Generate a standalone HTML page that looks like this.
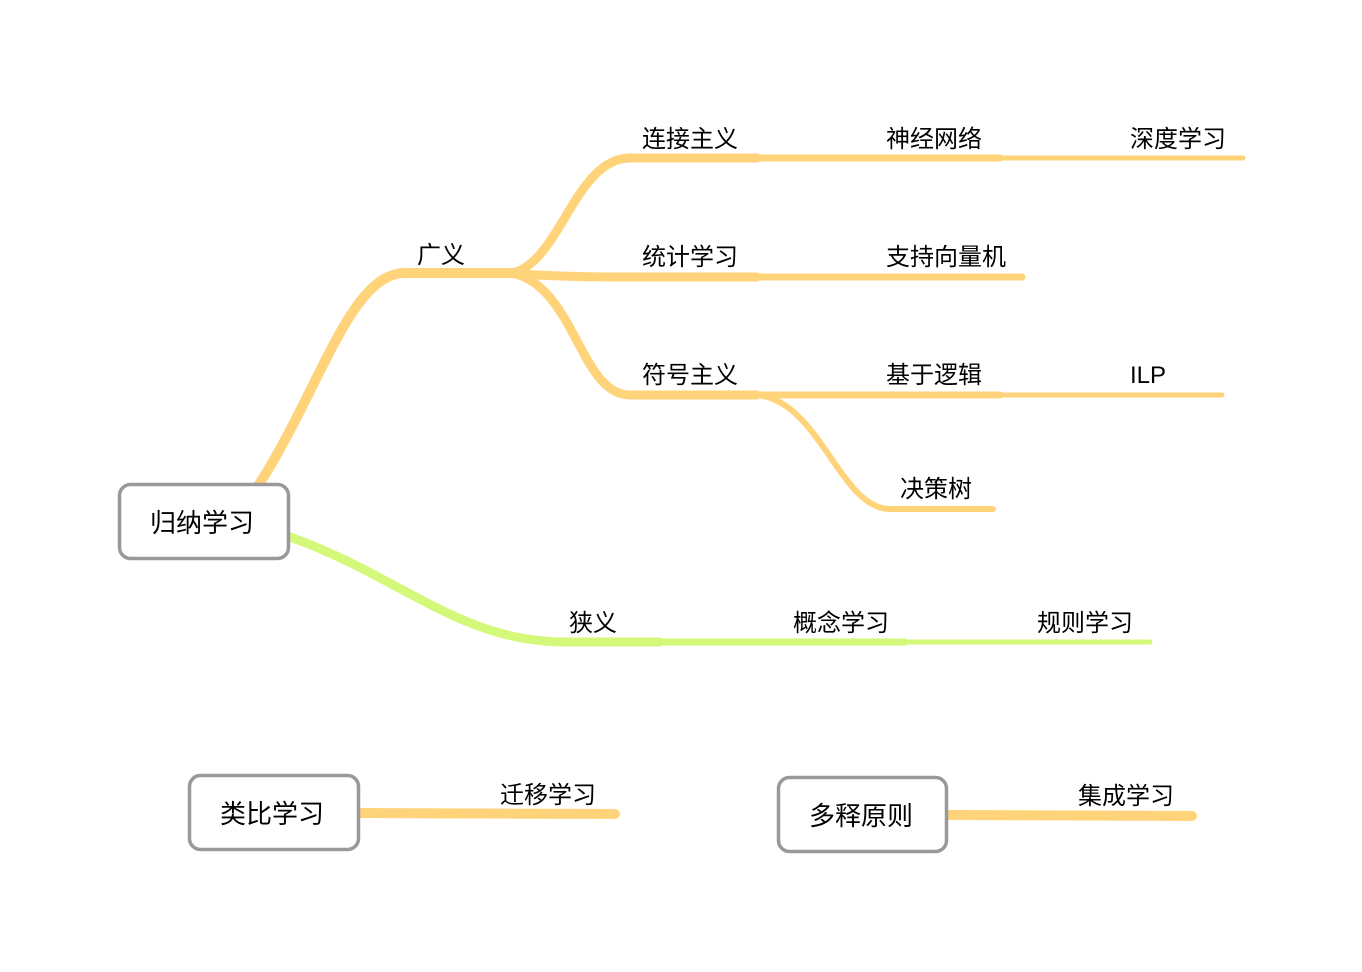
<!DOCTYPE html>
<html><head><meta charset="utf-8"><style>
html,body{margin:0;padding:0;background:#fff;width:1362px;height:972px;overflow:hidden}
text{font-family:"Liberation Sans","Noto Sans CJK SC",sans-serif;font-size:24px;fill:#000}
</style></head><body>
<svg width="1362" height="972" viewBox="0 0 1362 972" xmlns="http://www.w3.org/2000/svg">
<g fill="none" stroke="#FFD37A" stroke-linecap="round">
<path d="M258 486 C320 390 350 273 405 273 L512 273" stroke-width="10"/>
<path d="M512 273 C560 263 575 158 630 158 L757 158" stroke-width="9"/>
<path d="M757 158 L1000 158" stroke-width="7"/>
<path d="M1000 158 L1243 158" stroke-width="5"/>
<path d="M505 273 C560 277 600 277 630 277 L757 277" stroke-width="9"/>
<path d="M757 277 L1022 277" stroke-width="7"/>
<path d="M512 273 C575 286 580 395 630 395 L757 395" stroke-width="9"/>
<path d="M757 395 L1000 395" stroke-width="7"/>
<path d="M1000 395 L1222 395" stroke-width="5"/>
<path d="M757 395 C820 401 840 509 890 509 L993 509" stroke-width="6"/>
<path d="M360 813 L615 814" stroke-width="10"/>
<path d="M948 815 L1192 816" stroke-width="10"/>
</g>
<g fill="none" stroke="#D4F97A" stroke-linecap="round">
<path d="M290 537 C400 576 460 642 565 642 L660 642" stroke-width="9"/>
<path d="M660 642 L905 642" stroke-width="7"/>
<path d="M905 642 L1150 642" stroke-width="5"/>
</g>
<g fill="#fff" stroke="#999" stroke-width="3.5">
<rect x="119.5" y="484.5" width="169" height="74" rx="11"/>
<rect x="189.5" y="775.5" width="169" height="74" rx="11"/>
<rect x="778.5" y="777.5" width="168" height="74" rx="11"/>
</g>
<text x="150" y="532" style="font-size:26px">归纳学习</text>
<text x="220" y="823" style="font-size:26px">类比学习</text>
<text x="809" y="825" style="font-size:26px">多释原则</text>
<text x="417" y="263">广义</text>
<text x="642" y="147">连接主义</text>
<text x="886" y="147">神经网络</text>
<text x="1130" y="147">深度学习</text>
<text x="642" y="265">统计学习</text>
<text x="886" y="265">支持向量机</text>
<text x="642" y="383">符号主义</text>
<text x="886" y="383">基于逻辑</text>
<text x="1130" y="383">ILP</text>
<text x="900" y="497">决策树</text>
<text x="569" y="631">狭义</text>
<text x="793" y="631">概念学习</text>
<text x="1037" y="631">规则学习</text>
<text x="500" y="803">迁移学习</text>
<text x="1078" y="804">集成学习</text>
</svg>
</body></html>
